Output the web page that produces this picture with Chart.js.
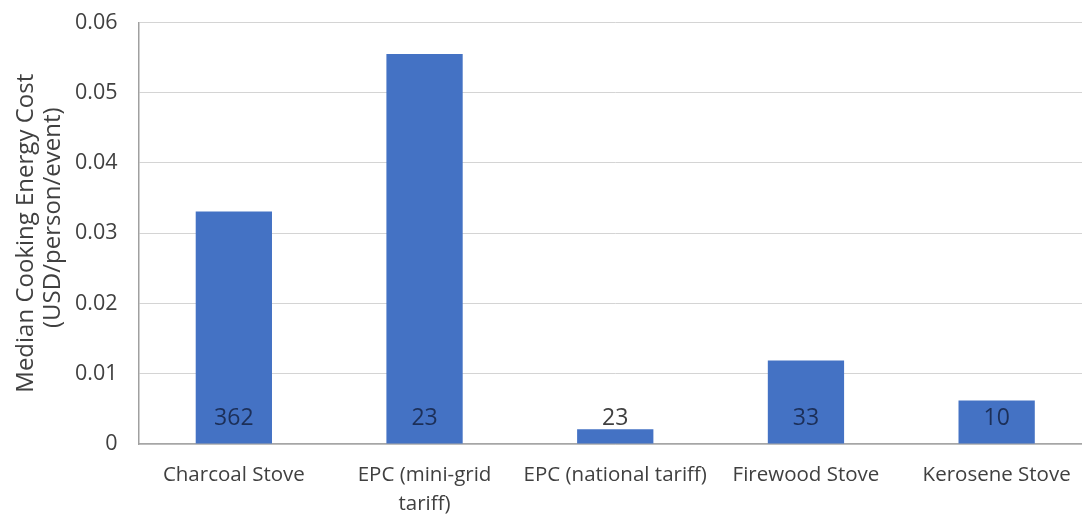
<!DOCTYPE html>
<html>
<head>
<meta charset="utf-8">
<title>Median Cooking Energy Cost</title>
<script src="https://cdn.jsdelivr.net/npm/chart.js@4/dist/chart.umd.min.js"></script>
<style>
  html, body { margin: 0; padding: 0; background: #ffffff; overflow: hidden; }
  #wrap { position: relative; width: 1100px; height: 515px; }
</style>
</head>
<body>
<div id="wrap"><canvas id="chart"></canvas></div>
<script>
// Stove / tariff categories (multi-line where the label wraps)
const categories = [
  'Charcoal Stove',
  ['EPC (mini-grid', 'tariff)'],
  'EPC (national tariff)',
  'Firewood Stove',
  'Kerosene Stove'
];
// Median cooking energy cost, USD per person per cooking event
const medianCost = [0.0331, 0.0555, 0.0021, 0.0119, 0.0062];
// Number of cooking events behind each median
const sampleCounts = [362, 23, 23, 33, 10];
// Y-axis range
const yMin = 0, yMax = 0.06, yStep = 0.01;

const FONT = "'Open Sans', 'DejaVu Sans', sans-serif";

// Writes the sample count near the foot of each bar
const countLabels = {
  id: 'countLabels',
  afterDatasetsDraw(chart) {
    const { ctx, scales: { y } } = chart;
    const meta = chart.getDatasetMeta(0);
    const base = y.getPixelForValue(0);
    const labelY = base - 26;
    ctx.save();
    ctx.font = "23px " + FONT;
    ctx.textAlign = 'center';
    ctx.textBaseline = 'middle';
    meta.data.forEach((bar, i) => {
      const fitsInside = bar.y < labelY - 10;
      ctx.fillStyle = fitsInside ? '#1c2f58' : '#404040';
      ctx.fillText(String(sampleCounts[i]), bar.x, labelY);
    });
    ctx.restore();
  }
};

new Chart(document.getElementById('chart'), {
  type: 'bar',
  data: {
    labels: categories,
    datasets: [{
      data: medianCost,
      backgroundColor: '#4472c4',
      borderWidth: 0,
      categoryPercentage: 1.0,
      barPercentage: 0.4
    }]
  },
  options: {
    responsive: true,
    maintainAspectRatio: false,
    animation: false,
    layout: { padding: { top: 22.5, right: 8, left: 0, bottom: 0 } },
    plugins: {
      legend: { display: false },
      tooltip: { enabled: false }
    },
    scales: {
      x: {
        grid: { display: false, drawTicks: false },
        border: { display: true, color: '#a6a6a6', width: 1.5 },
        ticks: {
          color: '#404040',
          font: { family: FONT, size: 20.5, lineHeight: 1.4 },
          padding: 17,
          maxRotation: 0,
          autoSkip: false
        },
        afterFit(scale) { scale.height = 71; }
      },
      y: {
        min: yMin,
        max: yMax,
        grid: { color: '#d4d4d4', lineWidth: 1, drawTicks: false },
        border: { display: true, color: '#a0a0a0', width: 1.5 },
        ticks: {
          stepSize: yStep,
          color: '#404040',
          font: { family: FONT, size: 21.5 },
          padding: 21,
          callback: (v) => (Math.round(v * 100) / 100).toString()
        },
        title: {
          display: true,
          text: ['Median Cooking Energy Cost', '     (USD/person/event)'],
          color: '#404040',
          font: { family: FONT, size: 24, lineHeight: 1.15 },
          padding: { top: 12, bottom: 0 }
        },
        afterFit(scale) {
          scale.width = 138.5;
          scale.paddingTop = 0;
          scale.paddingBottom = 0;
        }
      }
    }
  },
  plugins: [countLabels]
});
</script>
</body>
</html>
